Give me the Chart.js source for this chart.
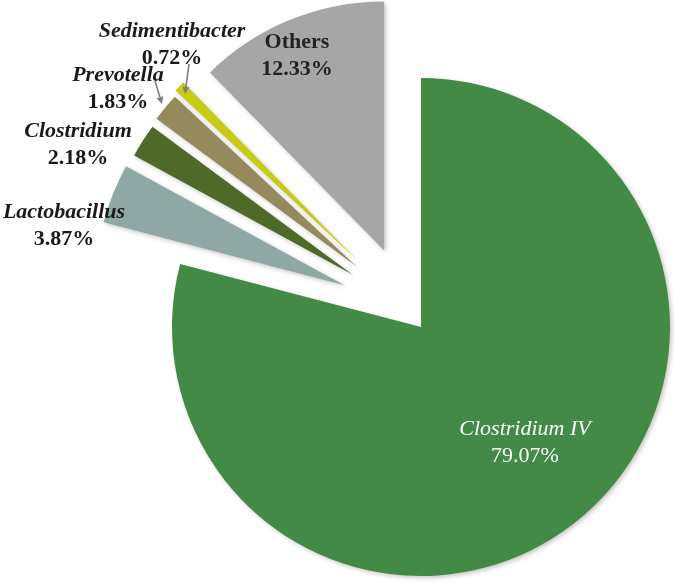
<!DOCTYPE html>
<html><head><meta charset="utf-8">
<script src="https://cdn.jsdelivr.net/npm/chart.js@4"></script>
<style>html,body{margin:0;padding:0;background:#fff}#wrap{width:675px;height:583px}</style>
</head><body><div id="wrap"><canvas id="c" width="675" height="583"></canvas></div>
<script>
const genera = ['Clostridium IV', 'Lactobacillus', 'Clostridium', 'Prevotella', 'Sedimentibacter', 'Others'];
const shares = [79.07, 3.87, 2.18, 1.83, 0.72, 12.33];
const pctLabels = ['79.07%', '3.87%', '2.18%', '1.83%', '0.72%', '12.33%'];
const sliceColors = ['#438a46', '#8fa8a5', '#4f6a28', '#958a5b', '#c8cb14', '#a6a6a6'];
// explosion distance (px) and small turn of the explosion direction (deg)
const explodePx = [0, 87, 86, 88, 92, 85];
const explodeTurnDeg = [0, 7, 5, 3.5, 2, -3.5];

const F = '"Liberation Serif"';
const labelPos = [
  {x: 525, y: 429, color: '#ffffff', nameFont: 'italic 22px ' + F, pctFont: '22px ' + F},
  {x: 64, y: 212, color: '#1a1a1a', nameFont: 'italic bold 22px ' + F, pctFont: 'bold 22px ' + F},
  {x: 78, y: 131, color: '#1a1a1a', nameFont: 'italic bold 22px ' + F, pctFont: 'bold 22px ' + F},
  {x: 118, y: 75, color: '#1a1a1a', nameFont: 'italic bold 22px ' + F, pctFont: 'bold 22px ' + F},
  {x: 172, y: 31, color: '#1a1a1a', nameFont: 'italic bold 22px ' + F, pctFont: 'bold 22px ' + F},
  {x: 297, y: 42, color: '#222222', nameFont: 'bold 22px ' + F, pctFont: 'bold 22px ' + F}
];
const lineGap = 27;
const arrows = [
  {from: [155, 81], to: [162, 104]},
  {from: [189, 64], to: [185, 94]}
];

const explodePlugin = {
  id: 'explode',
  afterDatasetsUpdate(chart) {
    const meta = chart.getDatasetMeta(0);
    meta.data.forEach((arc, i) => {
      const d = explodePx[i] || 0;
      if (!d) return;
      const mid = (arc.startAngle + arc.endAngle) / 2 + (explodeTurnDeg[i] || 0) * Math.PI / 180;
      arc.x += Math.cos(mid) * d;
      arc.y += Math.sin(mid) * d;
    });
  }
};

const shadowPlugin = {
  id: 'shadow',
  beforeDatasetsDraw(chart) {
    const ctx = chart.ctx;
    ctx.save();
    ctx.shadowColor = 'rgba(0,0,0,0.22)';
    ctx.shadowBlur = 4;
    ctx.shadowOffsetX = 2;
    ctx.shadowOffsetY = 2;
  },
  afterDatasetsDraw(chart) {
    chart.ctx.restore();
  }
};

const labelPlugin = {
  id: 'labels',
  afterDraw(chart) {
    const ctx = chart.ctx;
    ctx.save();
    ctx.textAlign = 'center';
    ctx.textBaseline = 'middle';
    genera.forEach((g, i) => {
      const p = labelPos[i];
      ctx.fillStyle = p.color;
      ctx.font = p.nameFont;
      ctx.fillText(g, p.x, p.y);
      ctx.font = p.pctFont;
      ctx.fillText(pctLabels[i], p.x, p.y + lineGap);
    });
    ctx.strokeStyle = '#7f7f7f';
    ctx.fillStyle = '#7f7f7f';
    ctx.lineWidth = 1.6;
    arrows.forEach(a => {
      const [x1, y1] = a.from, [x2, y2] = a.to;
      const ang = Math.atan2(y2 - y1, x2 - x1);
      const hl = 7, hw = 3.5;
      const bx = x2 - Math.cos(ang) * hl, by = y2 - Math.sin(ang) * hl;
      ctx.beginPath();
      ctx.moveTo(x1, y1);
      ctx.lineTo(bx, by);
      ctx.stroke();
      ctx.beginPath();
      ctx.moveTo(x2, y2);
      ctx.lineTo(bx + Math.sin(ang) * hw, by - Math.cos(ang) * hw);
      ctx.lineTo(bx - Math.sin(ang) * hw, by + Math.cos(ang) * hw);
      ctx.closePath();
      ctx.fill();
    });
    ctx.restore();
  }
};

new Chart(document.getElementById('c'), {
  type: 'pie',
  data: {
    labels: genera,
    datasets: [{
      data: shares,
      backgroundColor: sliceColors,
      borderWidth: 0
    }]
  },
  options: {
    responsive: false,
    animation: false,
    events: [],
    layout: {padding: {left: 172, right: 5, top: 78, bottom: 7}},
    plugins: {legend: {display: false}, tooltip: {enabled: false}}
  },
  plugins: [explodePlugin, shadowPlugin, labelPlugin]
});
</script>
</body></html>
